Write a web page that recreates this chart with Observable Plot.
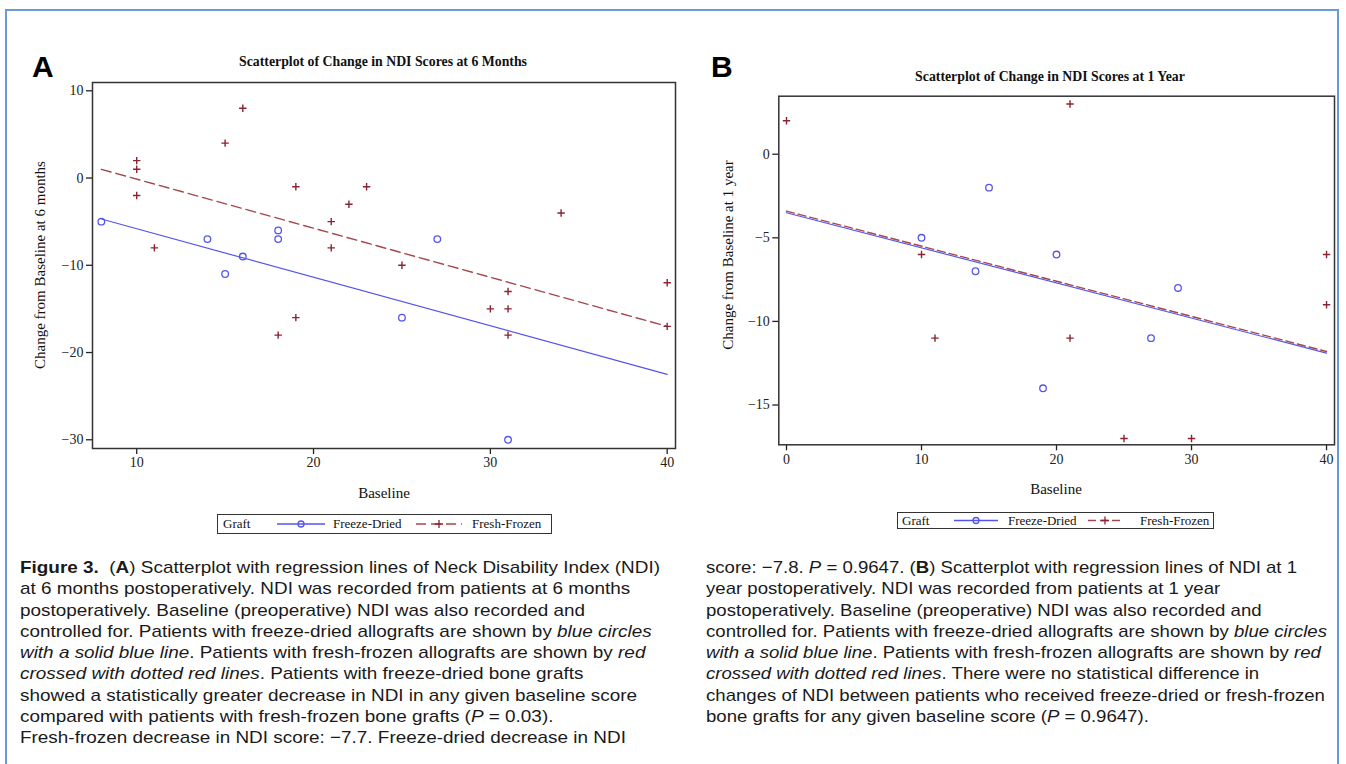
<!DOCTYPE html>
<html>
<head>
<meta charset="utf-8">
<script src="https://cdn.jsdelivr.net/npm/d3@7"></script>
<script src="https://cdn.jsdelivr.net/npm/@observablehq/plot@0.6"></script>
<style>
  html, body { margin: 0; padding: 0; background: #fff; }
  body { width: 1346px; height: 764px; position: relative; overflow: hidden; }
  .frameBorder { position: absolute; left: 5px; top: 9px; width: 1334px; height: 800px; border: 2px solid #6a9ad9; border-bottom: none; box-sizing: border-box; }
  .abs { position: absolute; }
  .letter { font-family: "Liberation Sans", Arial, sans-serif; font-weight: bold; font-size: 30px; color: #000; }
  .title { font-family: "Liberation Serif", serif; font-weight: bold; font-size: 13.8px; color: #111; white-space: nowrap; transform: translateX(-50%); }
  .alabel { font-family: "Liberation Serif", serif; font-size: 15px; color: #111; white-space: nowrap; }
  .ylab { transform: translate(-50%, -50%) rotate(-90deg); }
  .xlab { transform: translate(-50%, -50%); }
  .legend { border: 1.5px solid #333; box-sizing: border-box; font-family: "Liberation Serif", serif; font-size: 13px; color: #111; }
  .legend span, .legend svg { position: absolute; white-space: nowrap; }
  .caption { font-family: "Liberation Sans", Arial, sans-serif; font-size: 17px; line-height: 21.3px; color: #1a1a1a; white-space: nowrap; transform-origin: 0 0; }
</style>
</head>
<body>
<div class="frameBorder"></div>
<div id="plotA" class="abs" style="left:0;top:0"></div>
<div id="plotB" class="abs" style="left:700px;top:0"></div>

<div class="abs letter" style="left:32px;top:50px">A</div>
<div class="abs letter" style="left:711px;top:50px">B</div>

<div class="abs title" style="left:383px;top:54px">Scatterplot of Change in NDI Scores at 6 Months</div>
<div class="abs title" style="left:1050px;top:69px">Scatterplot of Change in NDI Scores at 1 Year</div>

<div class="abs alabel ylab" style="left:40px;top:265px">Change from Baseline at 6 months</div>
<div class="abs alabel ylab" style="left:728px;top:255px">Change from Baseline at 1 year</div>
<div class="abs alabel xlab" style="left:384px;top:493px">Baseline</div>
<div class="abs alabel xlab" style="left:1056px;top:489px">Baseline</div>

<div class="abs legend" style="left:217px;top:514px;width:335px;height:20px">
  <span style="left:5px;top:1px">Graft</span>
  <svg style="left:58px;top:0" width="50" height="18"><line x1="1" y1="9" x2="49" y2="9" stroke="#5555ee" stroke-width="1.3"/><circle cx="25" cy="9" r="3" fill="none" stroke="#5555ee" stroke-width="1.3"/></svg>
  <span style="left:115px;top:1px">Freeze-Dried</span>
  <svg style="left:197px;top:0" width="48" height="18"><line x1="1" y1="9" x2="47" y2="9" stroke="#a5474d" stroke-width="1.3" stroke-dasharray="10,5"/><path d="M20,9h8M24,5v8" stroke="#8b2332" stroke-width="1.3" fill="none"/></svg>
  <span style="left:254px;top:1px">Fresh-Frozen</span>
</div>

<div class="abs legend" style="left:897px;top:512px;width:317px;height:17px">
  <span style="left:4px;top:0px">Graft</span>
  <svg style="left:55px;top:0" width="46" height="15"><line x1="1" y1="7.5" x2="45" y2="7.5" stroke="#5555ee" stroke-width="1.3"/><circle cx="23" cy="7.5" r="3" fill="none" stroke="#5555ee" stroke-width="1.3"/></svg>
  <span style="left:110px;top:0px">Freeze-Dried</span>
  <svg style="left:189px;top:0" width="36" height="15"><line x1="1" y1="7.5" x2="35" y2="7.5" stroke="#a5474d" stroke-width="1.3" stroke-dasharray="8,4"/><path d="M14,7.5h8M18,3.5v8" stroke="#8b2332" stroke-width="1.3" fill="none"/></svg>
  <span style="left:242px;top:0px">Fresh-Frozen</span>
</div>

<div id="capL" class="abs caption" style="left:20px;top:557px">
<b>Figure 3.</b>&nbsp; (<b>A</b>) Scatterplot with regression lines of Neck Disability Index (NDI)<br>
at 6 months postoperatively. NDI was recorded from patients at 6 months<br>
postoperatively. Baseline (preoperative) NDI was also recorded and<br>
controlled for. Patients with freeze-dried allografts are shown by <i>blue circles</i><br>
<i>with a solid blue line</i>. Patients with fresh-frozen allografts are shown by <i>red</i><br>
<i>crossed with dotted red lines</i>. Patients with freeze-dried bone grafts<br>
showed a statistically greater decrease in NDI in any given baseline score<br>
compared with patients with fresh-frozen bone grafts (<i>P</i> = 0.03).<br>
Fresh-frozen decrease in NDI score: −7.7. Freeze-dried decrease in NDI
</div>
<div id="capR" class="abs caption" style="left:706px;top:557px">
score: −7.8. <i>P</i> = 0.9647. (<b>B</b>) Scatterplot with regression lines of NDI at 1<br>
year postoperatively. NDI was recorded from patients at 1 year<br>
postoperatively. Baseline (preoperative) NDI was also recorded and<br>
controlled for. Patients with freeze-dried allografts are shown by <i>blue circles</i><br>
<i>with a solid blue line</i>. Patients with fresh-frozen allografts are shown by <i>red</i><br>
<i>crossed with dotted red lines</i>. There were no statistical difference in<br>
changes of NDI between patients who received freeze-dried or fresh-frozen<br>
bone grafts for any given baseline score (<i>P</i> = 0.9647).
</div>

<script>
// ---------- Panel A: 6 months ----------
const aFreezeDriedBaseline = [8, 14, 15, 16, 18, 18, 25, 27, 31];
const aFreezeDriedChange   = [-5, -7, -11, -9, -6, -7, -16, -7, -30];
const aFreshFrozenBaseline = [10, 10, 10, 11, 15, 16, 18, 19, 19, 21, 21, 22, 23, 25, 30, 31, 31, 31, 34, 40, 40];
const aFreshFrozenChange   = [2, 1, -2, -8, 4, 8, -18, -1, -16, -5, -8, -3, -1, -10, -15, -13, -15, -18, -4, -12, -17];
const aFitBaseline         = [8, 40];
const aFitFreezeDried      = [-4.7, -22.5];
const aFitFreshFrozen      = [1.0, -17.0];
const aXTicks = [10, 20, 30, 40];
const aYTicks = [-30, -20, -10, 0, 10];

// ---------- Panel B: 1 year ----------
const bFreezeDriedBaseline = [10, 14, 15, 19, 20, 27, 29];
const bFreezeDriedChange   = [-5, -7, -2, -14, -6, -11, -8];
const bFreshFrozenBaseline = [0, 10, 11, 21, 21, 25, 30, 40, 40];
const bFreshFrozenChange   = [2, -6, -11, 3, -11, -17, -17, -6, -9];
const bFitBaseline         = [0, 40];
const bFitFreezeDried      = [-3.5, -11.9];
const bFitFreshFrozen      = [-3.4, -11.8];
const bXTicks = [0, 10, 20, 30, 40];
const bYTicks = [-15, -10, -5, 0];

const BLUE = "#5555ee", RED_LINE = "#a5474d", RED_PT = "#8b2332";

const zip = (xs, ys) => xs.map((x, i) => ({x, y: ys[i]}));

const plusSymbol = {
  draw(ctx, size) {
    const r = Math.sqrt(size / Math.PI);
    ctx.moveTo(-r, 0); ctx.lineTo(r, 0);
    ctx.moveTo(0, -r); ctx.lineTo(0, r);
  }
};

function panel(opts) {
  return Plot.plot({
    width: opts.width, height: opts.height,
    marginLeft: opts.ml, marginRight: opts.mr, marginTop: opts.mt, marginBottom: opts.mb,
    style: {fontFamily: "'Liberation Serif', serif", fontSize: "14px", color: "#222", background: "transparent", overflow: "visible"},
    x: {domain: opts.xDomain},
    y: {domain: opts.yDomain},
    marks: [
      Plot.axisX({ticks: opts.xTicks, tickSize: 6, tickPadding: 3, label: null, strokeWidth: 1.3}),
      Plot.axisY({ticks: opts.yTicks, tickSize: 6, tickPadding: 3, label: null, strokeWidth: 1.3}),
      Plot.line(zip(opts.fitX, opts.fitFF), {x: "x", y: "y", stroke: RED_LINE, strokeWidth: 1.4, strokeDasharray: opts.dash}),
      Plot.line(zip(opts.fitX, opts.fitFD), {x: "x", y: "y", stroke: BLUE, strokeWidth: 1.2}),
      Plot.dot(zip(opts.fdX, opts.fdY), {x: "x", y: "y", r: 3.3, stroke: BLUE, fill: "none", strokeWidth: 1.3}),
      Plot.dot(zip(opts.ffX, opts.ffY), {x: "x", y: "y", r: 3.7, symbol: plusSymbol, stroke: RED_PT, fill: "none", strokeWidth: 1.4}),
      Plot.frame({stroke: "#333", strokeWidth: 1.5})
    ]
  });
}

document.getElementById("plotA").append(panel({
  width: 690, height: 470, ml: 92, mr: 15, mt: 82, mb: 22,
  xDomain: [7.5, 40.47], yDomain: [-31.0, 10.95],
  xTicks: aXTicks, yTicks: aYTicks,
  fitX: aFitBaseline, fitFD: aFitFreezeDried, fitFF: aFitFreshFrozen,
  fdX: aFreezeDriedBaseline, fdY: aFreezeDriedChange,
  ffX: aFreshFrozenBaseline, ffY: aFreshFrozenChange,
  dash: "10,5"
}));

document.getElementById("plotB").append(panel({
  width: 646, height: 470, ml: 78.3, mr: 12, mt: 95.7, mb: 25.7,
  xDomain: [-0.57, 40.59], yDomain: [-17.38, 3.47],
  xTicks: bXTicks, yTicks: bYTicks,
  fitX: bFitBaseline, fitFD: bFitFreezeDried, fitFF: bFitFreshFrozen,
  fdX: bFreezeDriedBaseline, fdY: bFreezeDriedChange,
  ffX: bFreshFrozenBaseline, ffY: bFreshFrozenChange,
  dash: "8,4"
}));

// stretch caption columns horizontally to the reference's measure
function fit(id, target) {
  const el = document.getElementById(id);
  el.style.display = "inline-block";
  const w = el.getBoundingClientRect().width;
  if (w > 0) el.style.transform = `scaleX(${target / w})`;
}
fit("capL", 640);
fit("capR", 621);
</script>
</body>
</html>
